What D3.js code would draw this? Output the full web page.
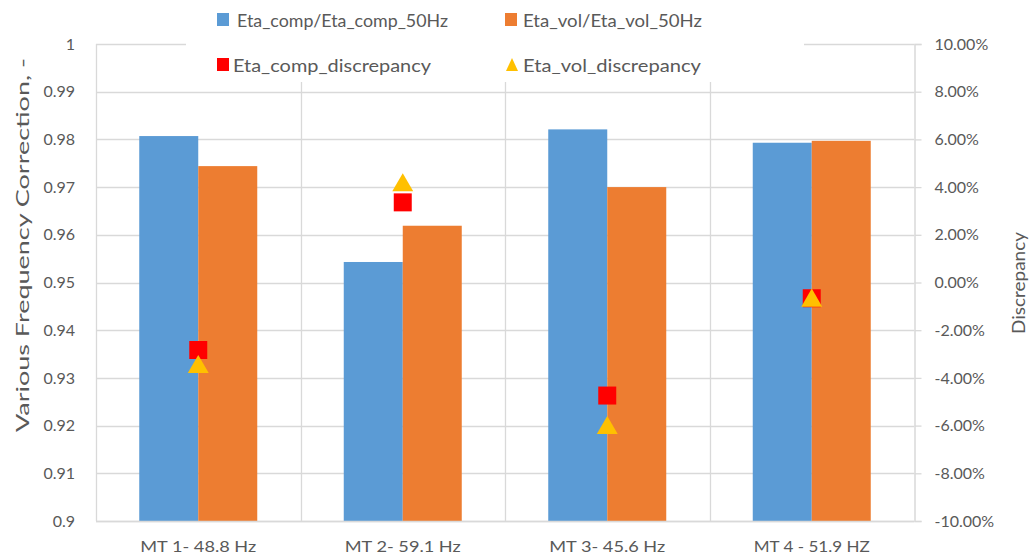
<!DOCTYPE html>
<html><head><meta charset="utf-8">
<script src="https://cdn.jsdelivr.net/npm/d3@7"></script>
<style>
body{margin:0;background:#fff;}
svg{display:block;font-family:Lato,"Open Sans",sans-serif;}
</style></head>
<body><svg id="c" width="1032" height="557"></svg>
<script>
const categories = ["MT 1- 48.8 Hz","MT 2- 59.1 Hz","MT 3- 45.6 Hz","MT 4 - 51.9 HZ"];
const etaComp = [0.9807, 0.9543, 0.9821, 0.9793];
const etaVol = [0.9744, 0.9619, 0.9700, 0.9797];
const etaCompDisc = [-0.0283, 0.0336, -0.0474, -0.0066];
const etaVolDisc = [-0.0346, 0.0416, -0.0602, -0.0068];
const leftTicks = [0.9,0.91,0.92,0.93,0.94,0.95,0.96,0.97,0.98,0.99,1];
const rightTicks = [-0.10,-0.08,-0.06,-0.04,-0.02,0,0.02,0.04,0.06,0.08,0.10];
const seriesNames = ["Eta_comp/Eta_comp_50Hz","Eta_vol/Eta_vol_50Hz","Eta_comp_discrepancy","Eta_vol_discrepancy"];

const C = {blue:"#5B9BD5", orange:"#ED7D31", red:"#FF0000", yellow:"#FFC000", grid:"#D9D9D9", text:"#595959"};
const L=96,R=914,T=44,B=521;
const svg=d3.select("#c");
const x=d3.scaleBand().domain(categories).range([L,R]);
const bw=x.bandwidth();
const xs=d3.scaleBand().domain([0,1]).range([(bw-118)/2,(bw+118)/2]);
const y=d3.scaleLinear().domain([0.9,1]).range([B,T]);
const y2=d3.scaleLinear().domain([-0.10,0.10]).range([B,T]);
const pct=d3.format(".2%");

// gridlines
svg.append("g").selectAll("line").data(leftTicks).join("line")
  .attr("x1",L).attr("x2",R).attr("y1",d=>Math.round(y(d))+0.5).attr("y2",d=>Math.round(y(d))+0.5)
  .attr("stroke",C.grid).attr("stroke-width",1.3);
svg.append("g").selectAll("line").data(categories.slice(1)).join("line")
  .attr("x1",d=>Math.round(x(d))+0.5).attr("x2",d=>Math.round(x(d))+0.5).attr("y1",T).attr("y2",B)
  .attr("stroke",C.grid).attr("stroke-width",1.3);
svg.append("line").attr("x1",L+0.5).attr("x2",L+0.5).attr("y1",T).attr("y2",B).attr("stroke",C.grid).attr("stroke-width",1.3);

// bars
const bars=svg.append("g");
[[etaComp,C.blue],[etaVol,C.orange]].forEach(([vals,col],i)=>{
  bars.selectAll(null).data(vals).join("rect")
    .attr("x",(d,j)=>x(categories[j])+xs(i)).attr("width",xs.bandwidth())
    .attr("y",d=>y(d)).attr("height",d=>B-y(d)).attr("fill",col);
});

// bottom axis line
svg.append("line").attr("x1",L).attr("x2",R).attr("y1",B+0.5).attr("y2",B+0.5).attr("stroke",C.grid).attr("stroke-width",1.5);

// right axis
const ra=d3.axisRight(y2).tickValues(rightTicks).tickSize(7).tickPadding(13).tickFormat(d=>pct(d).replace("\u2212","-"));
const rg=svg.append("g").attr("transform",`translate(${R+0.5},0)`).call(ra);
rg.select(".domain").attr("stroke",C.grid).attr("stroke-width",1.5);
rg.selectAll(".tick line").attr("stroke",C.grid).attr("stroke-width",1.3);
rg.selectAll("text").attr("fill",C.text).attr("font-size",16).attr("font-family","Lato");

// left axis
const la=d3.axisLeft(y).tickValues(leftTicks).tickSize(0).tickPadding(21).tickFormat(d=>String(+d.toFixed(2)));
const lg=svg.append("g").attr("transform",`translate(${L},0)`).call(la);
lg.select(".domain").remove();
lg.selectAll("text").attr("fill",C.text).attr("font-size",16).attr("font-family","Lato");

// category labels
svg.append("g").selectAll("text").data(categories).join("text")
  .attr("x",d=>x(d)+bw/2).attr("y",552).attr("text-anchor","middle")
  .attr("fill",C.text).attr("font-size",16).attr("textLength",116).attr("lengthAdjust","spacingAndGlyphs")
  .text(d=>d);

// markers
const sq=d3.symbol().type(d3.symbolSquare).size(18*18);
const tr=d3.symbol().type(d3.symbolTriangle).size(190);
svg.append("g").selectAll("path").data(etaCompDisc).join("path")
  .attr("transform",(d,i)=>`translate(${x(categories[i])+bw/2},${y2(d)})`)
  .attr("d",sq).attr("fill",C.red);
svg.append("g").selectAll("path").data(etaVolDisc).join("path")
  .attr("transform",(d,i)=>`translate(${x(categories[i])+bw/2},${y2(d)+2})`)
  .attr("d",tr).attr("fill",C.yellow);

// axis titles
svg.append("text").attr("transform","translate(29,245) rotate(-90)").attr("text-anchor","middle")
  .attr("fill",C.text).attr("font-size",18).attr("textLength",374).attr("lengthAdjust","spacingAndGlyphs")
  .text("Various Frequency Correction, -");
svg.append("text").attr("transform","translate(1025,283) rotate(-90)").attr("text-anchor","middle")
  .attr("fill",C.text).attr("font-size",18).attr("textLength",102).attr("lengthAdjust","spacingAndGlyphs")
  .text("Discrepancy");

// legend
const lgd=svg.append("g");
lgd.append("rect").attr("x",186).attr("y",0).attr("width",618).attr("height",82).attr("fill","#fff");
const items=[
  {n:seriesNames[0],sx:217,sy:13,tx:237,ty:27,col:C.blue,k:"sq",w:211},
  {n:seriesNames[1],sx:505,sy:13,tx:523,ty:27,col:C.orange,k:"sq",w:179},
  {n:seriesNames[2],sx:217,sy:58,tx:233,ty:72,col:C.red,k:"sq",w:198},
  {n:seriesNames[3],sx:506,sy:58,tx:523,ty:72,col:C.yellow,k:"tr",w:178}
];
items.forEach(it=>{
  if(it.k==="sq") lgd.append("rect").attr("x",it.sx).attr("y",it.sy).attr("width",12).attr("height",13).attr("fill",it.col);
  else lgd.append("path").attr("d",`M${it.sx+6},${it.sy} L${it.sx+12},${it.sy+13} L${it.sx},${it.sy+13}Z`).attr("fill",it.col);
  lgd.append("text").attr("x",it.tx).attr("y",it.ty).attr("fill",C.text).attr("font-size",18)
    .attr("textLength",it.w).attr("lengthAdjust","spacingAndGlyphs").text(it.n);
});
</script></body></html>
